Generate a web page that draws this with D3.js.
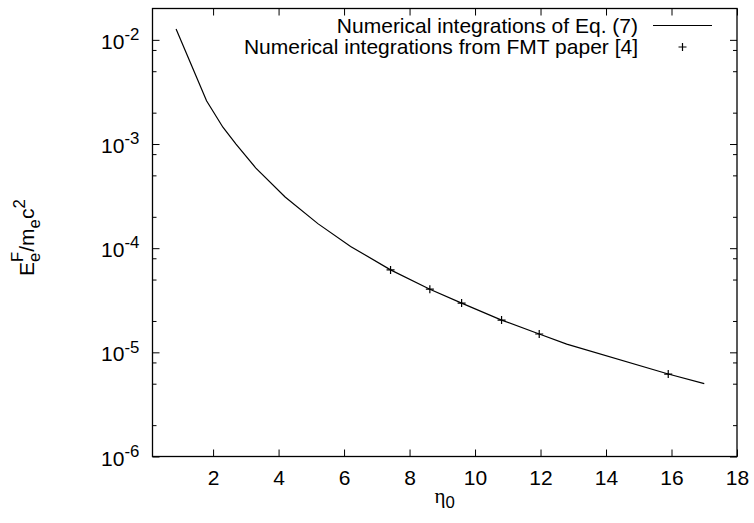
<!DOCTYPE html>
<html>
<head>
<meta charset="utf-8">
<script src="https://cdn.jsdelivr.net/npm/d3@7"></script>
<style>
  body { margin: 0; background: #fff; }
  text { font-family: "Liberation Sans", Arial, sans-serif; fill: #000; }
</style>
</head>
<body>
<script>
// curve: numerical integration of Eq. (7)
var etaCurve = [0.87, 1.35, 1.8, 2.3, 2.7, 3.3, 4.2, 5.2, 6.2, 7.42, 8.62, 9.59, 10.81, 11.96, 12.8, 15.9, 17.0]
var energyCurve = [1.27e-2, 5.6e-3, 2.6e-3, 1.45e-3, 1.0e-3, 5.9e-4, 3.1e-4, 1.72e-4, 1.04e-4, 6.19e-5, 4.04e-5, 2.97e-5, 2.04e-5, 1.50e-5, 1.2e-5, 6.19e-6, 5.0e-6]

// points from FMT paper [4]
var etaFMT = [7.42, 8.62, 9.59, 10.81, 11.96, 15.9]
var energyFMT = [6.19e-5, 4.04e-5, 2.97e-5, 2.04e-5, 1.50e-5, 6.19e-6]

var xTicks = [2, 4, 6, 8, 10, 12, 14, 16, 18]
var yExponents = [-6, -5, -4, -3, -2]
var yMinor = [2e-6, 5e-6, 8e-6, 2e-5, 5e-5, 8e-5, 2e-4, 5e-4, 8e-4, 2e-3, 5e-3, 8e-3]

var legendLabels = ["Numerical integrations of Eq. (7)", "Numerical integrations from FMT paper [4]"]

var W = 754, H = 523
var margin = {top: 8.5, right: 17, bottom: 66.5, left: 152.5}
var width = W - margin.left - margin.right
var height = H - margin.top - margin.bottom
var FS = 21, SFS = 16.8

var x = d3.scaleLinear().domain([0.15, 18]).range([0, width])
var y = d3.scaleLog().domain([1e-6, 2e-2]).range([height, 0])

var root = d3.select("body").append("svg")
  .attr("width", W)
  .attr("height", H)

var svg = root.append("g")
  .attr("transform", "translate(" + margin.left + "," + margin.top + ")")

// lay out runs of text with sub/superscripts
function measure(t, size, family) {
  var tmp = root.append("text").attr("font-size", size).text(t)
  if (family) tmp.style("font-family", family)
  var w = tmp.node().getComputedTextLength()
  tmp.remove()
  return w
}

function richText(parent, px, py, parts, anchor) {
  var pos = 0, prevStart = 0, prevW = 0
  parts.forEach(function(p) {
    p.w = measure(p.t, p.size, p.family)
    if (p.stack) {
      p.x = prevStart
      pos = prevStart + Math.max(prevW, p.w)
    } else {
      p.x = pos
      prevStart = pos
      prevW = p.w
      pos += p.w
    }
  })
  var start = anchor === "end" ? px - pos : anchor === "middle" ? px - pos / 2 : px
  parts.forEach(function(p) {
    var t = parent.append("text")
      .attr("x", start + p.x)
      .attr("y", py + (p.dy || 0))
      .attr("font-size", p.size)
      .text(p.t)
    if (p.family) t.style("font-family", p.family)
  })
}

// axes: ticks pointing inward, mirrored
function styleAxis(g) {
  g.select(".domain").remove()
  g.selectAll("line").attr("stroke", "#000").attr("stroke-width", 1)
  g.attr("font-family", null).attr("font-size", FS)
}

svg.append("g")
  .attr("transform", "translate(0," + height + ")")
  .call(d3.axisBottom(x).tickValues(xTicks).tickSize(-7).tickPadding(13.6).tickFormat(d3.format("d")))
  .call(styleAxis)

svg.append("g")
  .call(d3.axisTop(x).tickValues(xTicks).tickSize(-7).tickFormat(""))
  .call(styleAxis)

var yMajor = yExponents.map(function(e) { return Math.pow(10, e) })

svg.append("g")
  .call(d3.axisLeft(y).tickValues(yMajor).tickSize(-7).tickFormat(""))
  .call(styleAxis)
svg.append("g")
  .call(d3.axisLeft(y).tickValues(yMinor).tickSize(-4).tickFormat(""))
  .call(styleAxis)
svg.append("g")
  .attr("transform", "translate(" + width + ",0)")
  .call(d3.axisRight(y).tickValues(yMajor).tickSize(-7).tickFormat(""))
  .call(styleAxis)
svg.append("g")
  .attr("transform", "translate(" + width + ",0)")
  .call(d3.axisRight(y).tickValues(yMinor).tickSize(-4).tickFormat(""))
  .call(styleAxis)

// y tick labels 10^k
yExponents.forEach(function(e) {
  richText(svg, -13.2, y(Math.pow(10, e)) + 9, [
    {t: "10", size: FS},
    {t: String(e), size: SFS, dy: -8.7}
  ], "end")
})

// frame
svg.append("rect")
  .attr("width", width)
  .attr("height", height)
  .attr("fill", "none")
  .attr("stroke", "#000")
  .attr("stroke-width", 1.3)

// curve
var curve = etaCurve.map(function(d, i) { return {eta: d, e: energyCurve[i]} })
var line = d3.line()
  .x(function(d) { return x(d.eta) })
  .y(function(d) { return y(d.e) })

svg.append("path")
  .datum(curve)
  .attr("d", line)
  .attr("fill", "none")
  .attr("stroke", "#000")
  .attr("stroke-width", 1.2)

var plus = "M-4,0H4M0,-4V4"
svg.selectAll(".fmt")
  .data(etaFMT)
  .enter().append("path")
  .attr("class", "fmt")
  .attr("transform", function(d, i) { return "translate(" + x(d) + "," + y(energyFMT[i]) + ")" })
  .attr("d", plus)
  .attr("stroke", "#000")
  .attr("stroke-width", 1.2)

// legend
var key = root.append("g")
key.append("text")
  .attr("x", 638).attr("y", 32.5)
  .attr("text-anchor", "end")
  .attr("font-size", FS)
  .text(legendLabels[0])
key.append("line")
  .attr("x1", 653).attr("x2", 712)
  .attr("y1", 25.5).attr("y2", 25.5)
  .attr("stroke", "#000").attr("stroke-width", 1.2)
key.append("text")
  .attr("x", 638).attr("y", 54)
  .attr("text-anchor", "end")
  .attr("font-size", FS)
  .text(legendLabels[1])
key.append("path")
  .attr("transform", "translate(682.5,47)")
  .attr("d", plus)
  .attr("stroke", "#000").attr("stroke-width", 1.2)

// axis titles
richText(root, margin.left + width / 2, 503, [
  {t: "\u03b7", size: FS, family: "'Liberation Serif', serif"},
  {t: "0", size: SFS, dy: 5}
], "middle")

var ylab = root.append("g").attr("transform", "translate(33.5,276) rotate(-90)")
richText(ylab, 0, 0, [
  {t: "E", size: FS},
  {t: "e", size: SFS, dy: 6},
  {t: "F", size: SFS, dy: -11, stack: true},
  {t: "/m", size: FS},
  {t: "e", size: SFS, dy: 6},
  {t: "c", size: FS},
  {t: "2", size: SFS, dy: -9}
], "start")
</script>
</body>
</html>
